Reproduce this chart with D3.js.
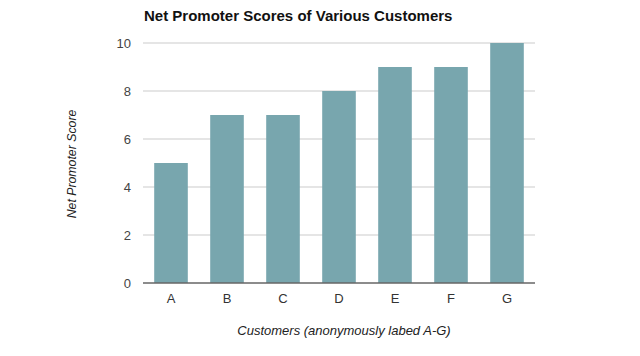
<!DOCTYPE html>
<html><head><meta charset="utf-8">
<script src="https://cdn.jsdelivr.net/npm/d3@7"></script>
<style>body{margin:0;background:#fff;} svg{display:block;font-family:"Liberation Sans",Arial,sans-serif;}</style>
</head><body>
<svg id="c" width="640" height="356"></svg>
<script>
const categories = ["A","B","C","D","E","F","G"];
const scores = [5,7,7,8,9,9,10];
const yTicks = [0,2,4,6,8,10];

(function(){
const svg = d3.select("#c");
const pLeft = 143, pRight = 535, pTop = 43, pBottom = 283;
const x = d3.scaleBand().domain(categories).range([pLeft,pRight]).paddingInner(0.4).paddingOuter(0.2);
const y = d3.scaleLinear().domain([0,10]).range([pBottom,pTop]);

svg.append("g").selectAll("line").data(yTicks.filter(d=>d>0)).join("line")
  .attr("x1",pLeft).attr("x2",pRight).attr("y1",d=>y(d)).attr("y2",d=>y(d))
  .attr("stroke","#dcdcdc").attr("stroke-width",1.3);

svg.append("g").selectAll("text").data(yTicks).join("text")
  .attr("x",131).attr("y",d=>y(d)+4.5).attr("text-anchor","end")
  .attr("font-size",13).attr("fill","#444").text(d=>d);

svg.append("g").selectAll("rect").data(scores).join("rect")
  .attr("x",(d,i)=>x(categories[i])).attr("width",x.bandwidth())
  .attr("y",d=>y(d)).attr("height",d=>pBottom-y(d))
  .attr("fill","#78a6ae");

svg.append("line").attr("x1",pLeft).attr("x2",pRight).attr("y1",pBottom).attr("y2",pBottom)
  .attr("stroke","#666").attr("stroke-width",1.3);

svg.append("g").selectAll("text").data(categories).join("text")
  .attr("x",d=>x(d)+x.bandwidth()/2).attr("y",303).attr("text-anchor","middle")
  .attr("font-size",13).attr("fill","#333").text(d=>d);

svg.append("text").attr("x",144).attr("y",21).attr("font-size",15).attr("font-weight","bold")
  .attr("fill","#111").text("Net Promoter Scores of Various Customers");

svg.append("text").attr("transform","translate(76,164) rotate(-90)").attr("text-anchor","middle")
  .attr("font-size",12.3).attr("font-style","italic").attr("fill","#222").text("Net Promoter Score");

svg.append("text").attr("x",344).attr("y",335).attr("text-anchor","middle")
  .attr("font-size",13).attr("font-style","italic").attr("fill","#222").text("Customers (anonymously labed A-G)");
})();
</script>
</body></html>
